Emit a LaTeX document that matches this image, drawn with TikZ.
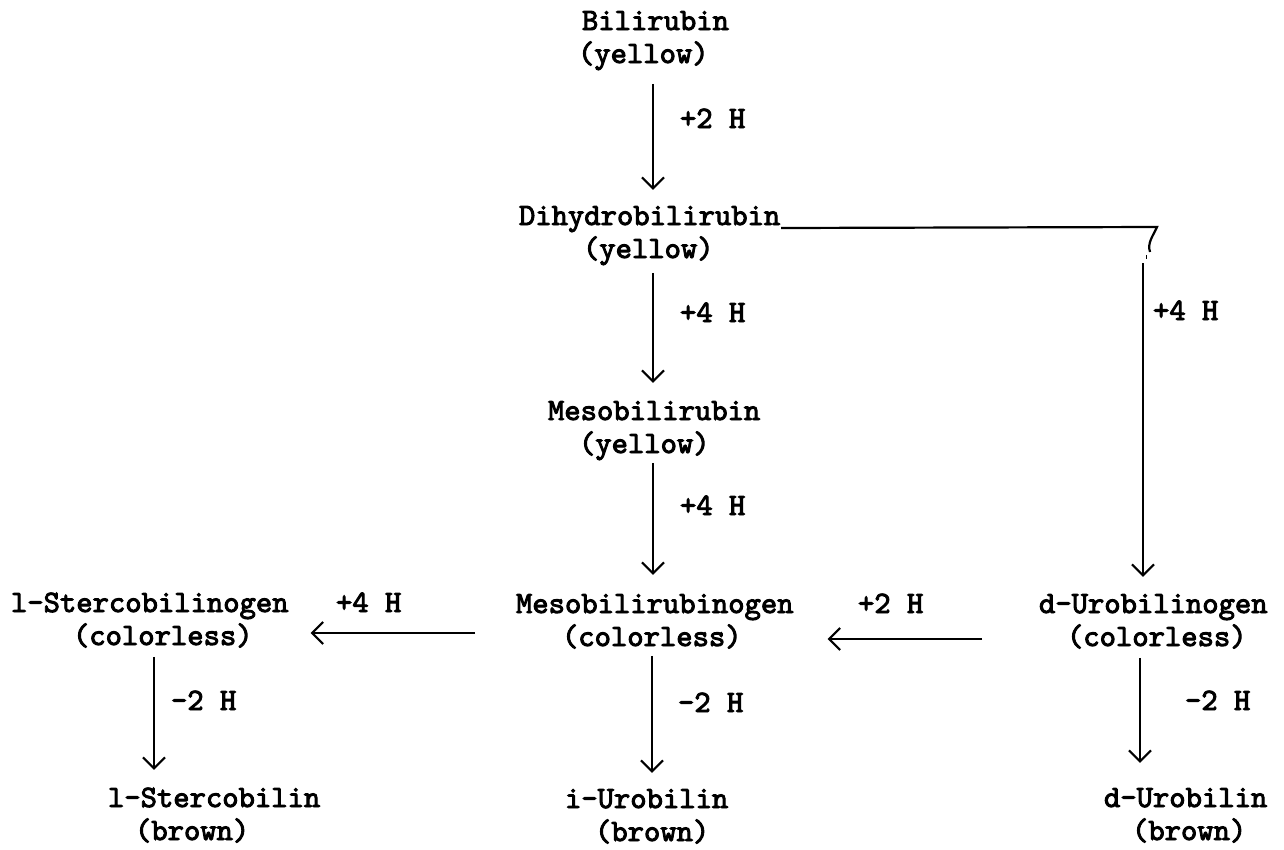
\documentclass[tikz,border=0pt]{standalone}
\usepackage{fontspec}
\newfontfamily\typewr{lmmono10-regular.otf}[FakeBold=3]
\usetikzlibrary{arrows.meta}
\newcommand\twoline[3]{\begin{tabular}[t]{@{}l@{}}#1\\\hspace*{#2pt}#3\end{tabular}}
\begin{document}
\begin{tikzpicture}[x=1pt,y=-1pt,
  every node/.style={inner sep=0pt, outer sep=0pt, font=\typewr\fontsize{31.1}{33}\selectfont},
  cpd/.style={anchor=base west},
  lbl/.style={anchor=base west},
  link/.style={line width=2.2pt},
  arr/.style={line width=2.2pt, -{Straight Barb[length=11pt,width=22pt,line width=2.2pt]}},
]
\useasboundingbox (0,0) rectangle (1284,849);
% compounds
\node[cpd] (bili)    at (582,30)  {\twoline{Bilirubin}{-4}{(yellow)}};
\node[cpd] (dihy)    at (519,225) {\twoline{Dihydrobilirubin}{64}{(yellow)}};
\node[cpd] (meso)    at (548,420) {\twoline{Mesobilirubin}{31}{(yellow)}};
\node[cpd] (mesogen) at (516,613) {\twoline{Mesobilirubinogen}{46}{(colorless)}};
\node[cpd] (iuro)    at (565,808) {\twoline{i-Urobilin}{30}{(brown)}};
\node[cpd] (lsgen)   at (11,612)  {\twoline{l-Stercobilinogen}{62}{(colorless)}};
\node[cpd] (lsbil)   at (108,807) {\twoline{l-Stercobilin}{27}{(brown)}};
\node[cpd] (dugen)   at (1039,613){\twoline{d-Urobilinogen}{28}{(colorless)}};
\node[cpd] (dubil)   at (1104,807){\twoline{d-Urobilin}{28}{(brown)}};
% labels
\node[lbl] (l1) at (680,128) {+2 H};
\node[lbl] (l2) at (680,322) {+4 H};
\node[lbl] (l3) at (680,515) {+4 H};
\node[lbl] (l4) at (678,712) {-2 H};
\node[lbl] (l5) at (1153,320) {+4 H};
\node[lbl] (l6) at (336,612) {+4 H};
\node[lbl] (l7) at (858,613) {+2 H};
\node[lbl] (l8) at (171,710) {-2 H};
\node[lbl] (l9) at (1185,710) {-2 H};
% helper coordinates
\coordinate (cx) at (653,0);
\coordinate (cx4) at (652,0);
\coordinate (lx) at (154,0);
\coordinate (rdx) at (1140,0);
\coordinate (hyL) at (0,633);
\coordinate (hyR) at (0,639);
\coordinate (dj) at (781,228);
\coordinate (corner) at (1157,227);
\coordinate (rx) at (1143,263);
% vertical arrows
\draw[arr, shorten <=11pt, shorten >=12pt] (bili.south -| cx) -- (dihy.north -| cx);
\draw[arr, shorten <=5pt, shorten >=14pt] (dihy.south -| cx) -- (meso.north -| cx);
\draw[arr, shorten <=0pt, shorten >=15pt] (meso.south -| cx) -- (mesogen.north -| cx);
\draw[arr, shorten <=0pt, shorten >=12pt] (mesogen.south -| cx4) -- (iuro.north -| cx4);
\draw[arr, shorten <=2pt, shorten >=14pt] (lsgen.south -| lx) -- (lsbil.north -| lx);
\draw[arr, shorten <=2pt, shorten >=21pt] (dugen.south -| rdx) -- (dubil.north -| rdx);
% horizontal arrows
\draw[arr, shorten <=57pt, shorten >=34pt] (dugen.west |- hyR) -- (mesogen.east |- hyR);
\draw[arr, shorten <=41pt, shorten >=22pt] (mesogen.west |- hyL) -- (lsgen.east |- hyL);
% branch from dihydrobilirubin
\draw[link] (dj) -- (corner) .. controls (1153,236) and (1147,243) .. (1150,252);
\draw[line width=1pt] (1146,255) -- (1146,259);
\draw[arr, shorten >=13pt] (rx) -- (dugen.north -| rx);
\end{tikzpicture}
\end{document}
